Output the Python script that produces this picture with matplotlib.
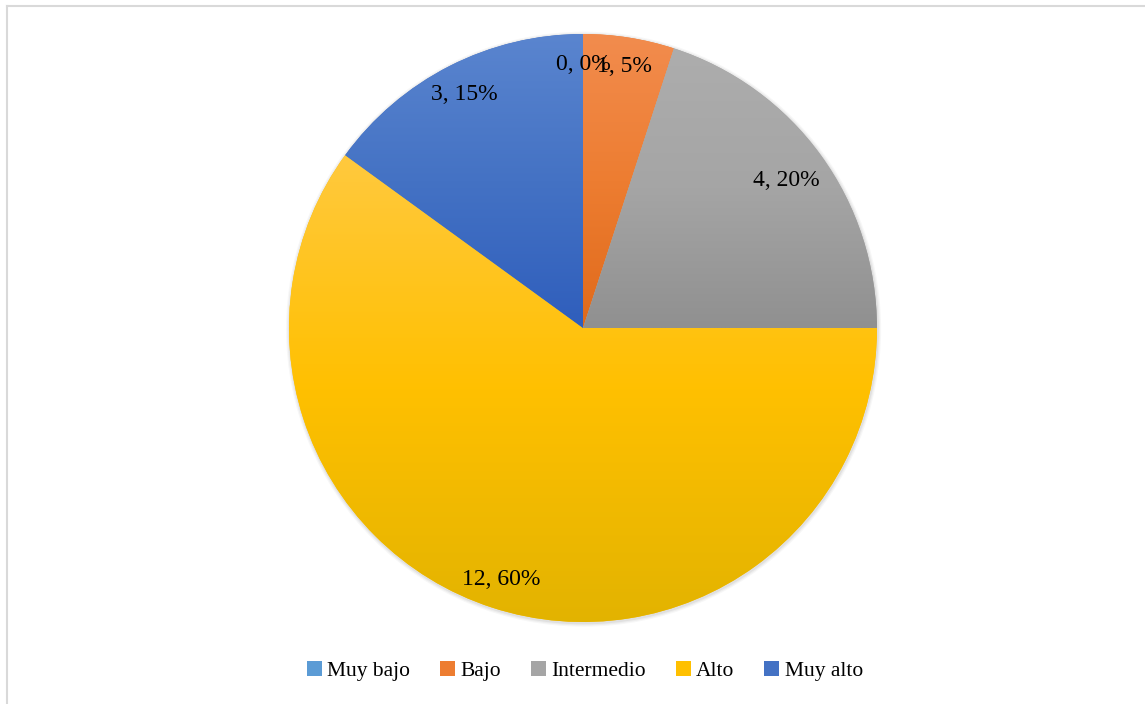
import numpy as np
import matplotlib
matplotlib.use("Agg")
import matplotlib.pyplot as plt
from matplotlib.lines import Line2D
from matplotlib.patches import Patch
from matplotlib.colors import to_rgb

categories = ["Muy bajo", "Bajo", "Intermedio", "Alto", "Muy alto"]
counts = [0, 1, 4, 12, 3]
percents = [0, 5, 20, 60, 15]
base_colors = ["#5B9BD5", "#ED7D31", "#A5A5A5", "#FFC000", "#4472C4"]
top_colors = ["#6FA8DC", "#F28C4E", "#ADADAD", "#FFC93E", "#5A85CF"]
bottom_colors = ["#3F86C8", "#E06A1B", "#909090", "#E2B300", "#2F5EBC"]

plt.rcParams['font.family'] = ['Liberation Serif', 'DejaVu Serif']

W, H = 1145, 704
fig = plt.figure(figsize=(W / 100, H / 100), dpi=100)
cx, cy, R = 583, 328, 294
ax = fig.add_axes([(cx - R) / W, (H - cy - R) / H, 2 * R / W, 2 * R / H])
ax.set_xlim(-1, 1)
ax.set_ylim(-1, 1)
ax.set_aspect('equal')
ax.axis('off')

wedges, _ = ax.pie(counts, startangle=90, counterclock=False, radius=1,
                   colors=base_colors, wedgeprops=dict(linewidth=0))

# soft shadow (blurred look via stacked translucent discs)
for r, a in [(1.012, 0.03), (1.008, 0.04), (1.004, 0.05)]:
    ax.add_patch(plt.Circle((0.002, -0.004), r, color='#000000', alpha=a, zorder=0, lw=0,
                            clip_on=False))

for w, tc, bc, mc in zip(wedges, top_colors, bottom_colors, base_colors):
    verts = w.get_path().vertices
    if len(verts) == 0 or abs(w.theta2 - w.theta1) < 1e-6:
        continue
    ymin, ymax = verts[:, 1].min(), verts[:, 1].max()
    xmin, xmax = verts[:, 0].min(), verts[:, 0].max()
    n = 256
    t = np.linspace(0, 1, n)[:, None]
    c0, c1, c2 = np.array(to_rgb(tc)), np.array(to_rgb(mc)), np.array(to_rgb(bc))
    grad = np.where(t < 0.5, c0 + (c1 - c0) * (t / 0.5), c1 + (c2 - c1) * ((t - 0.5) / 0.5))
    img = np.repeat(grad[:, None, :], 2, axis=1).reshape(n, 2, 3)
    im = ax.imshow(img, extent=[xmin, xmax, ymin, ymax], origin='upper',
                   aspect='auto', zorder=2, interpolation='bilinear')
    im.set_clip_path(w)
    w.set_zorder(1)

ax.set_xlim(-1, 1)
ax.set_ylim(-1, 1)

dists = [0.895, 0.9, 0.855, 0.9, 0.89]
for w, c, p, d in zip(wedges, counts, percents, dists):
    ang = np.deg2rad((w.theta1 + w.theta2) / 2)
    ax.text(d * np.cos(ang), d * np.sin(ang), f"{c}, {p}%", ha='center', va='center',
            fontsize=17, color='black', zorder=5)

handles = [Patch(facecolor=c, edgecolor='none') for c in base_colors]
fig.legend(handles, categories, loc='center', bbox_to_anchor=(585 / W, 1 - 671 / H),
           ncol=5, frameon=False, fontsize=15.5, handlelength=0.7, handleheight=0.7,
           handletextpad=0.25, columnspacing=1.38)

# border
fig.add_artist(Line2D([6.5 / W, 1], [1 - 5.5 / H, 1 - 5.5 / H], color='#D9D9D9', lw=1.5))
fig.add_artist(Line2D([6.5 / W, 6.5 / W], [0, 1 - 5.5 / H], color='#D9D9D9', lw=1.5))

fig.savefig("out.png", dpi=100)
